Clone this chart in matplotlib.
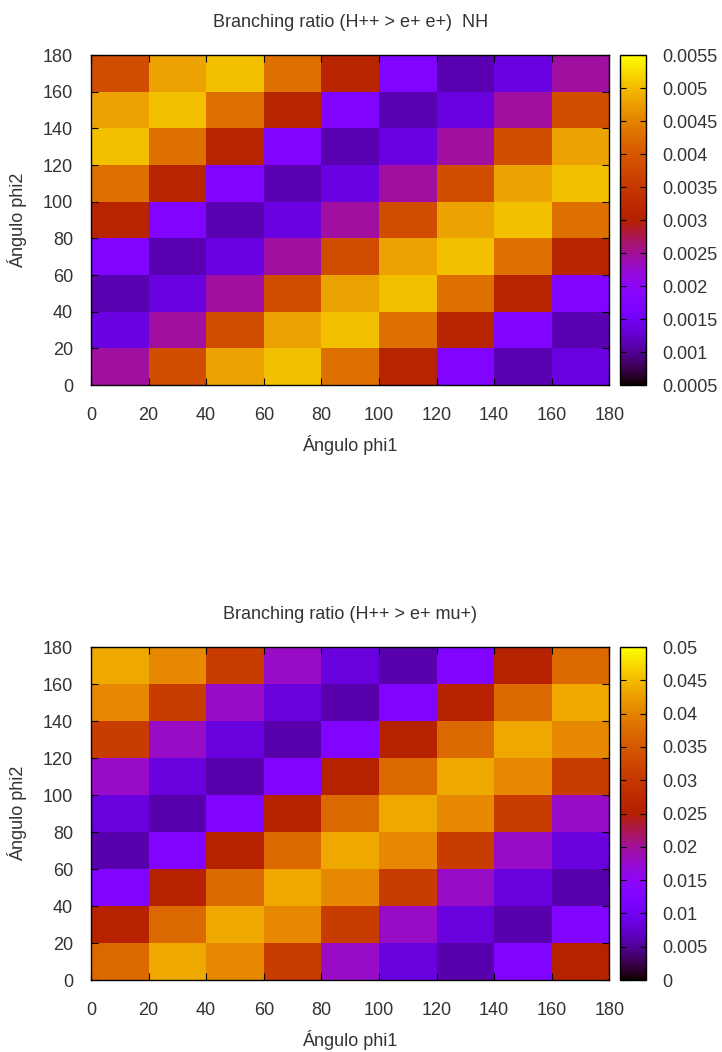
import matplotlib
matplotlib.use('agg')
from matplotlib import pyplot as plt
import numpy as np

plt.rcParams['font.family'] = ['Liberation Sans', 'DejaVu Sans']

# bin edges for both angles (degrees)
phi_edges = [0, 20, 40, 60, 80, 100, 120, 140, 160, 180]
ticks = [0, 20, 40, 60, 80, 100, 120, 140, 160, 180]

# BR(H++ -> e+ e+), NH ; rows = phi2 bins (bottom to top), cols = phi1 bins
br_ee = [
    [0.00247, 0.00383, 0.00478, 0.00505, 0.00430, 0.00310, 0.00175, 0.00112, 0.00137],
    [0.00137, 0.00247, 0.00383, 0.00478, 0.00505, 0.00430, 0.00310, 0.00175, 0.00112],
    [0.00112, 0.00137, 0.00247, 0.00383, 0.00478, 0.00505, 0.00430, 0.00310, 0.00175],
    [0.00175, 0.00112, 0.00137, 0.00247, 0.00383, 0.00478, 0.00505, 0.00430, 0.00310],
    [0.00310, 0.00175, 0.00112, 0.00137, 0.00247, 0.00383, 0.00478, 0.00505, 0.00430],
    [0.00430, 0.00310, 0.00175, 0.00112, 0.00137, 0.00247, 0.00383, 0.00478, 0.00505],
    [0.00505, 0.00430, 0.00310, 0.00175, 0.00112, 0.00137, 0.00247, 0.00383, 0.00478],
    [0.00478, 0.00505, 0.00430, 0.00310, 0.00175, 0.00112, 0.00137, 0.00247, 0.00383],
    [0.00383, 0.00478, 0.00505, 0.00430, 0.00310, 0.00175, 0.00112, 0.00137, 0.00247],
]
ee_ticks = [0.0005, 0.001, 0.0015, 0.002, 0.0025, 0.003, 0.0035, 0.004, 0.0045, 0.005, 0.0055]
ee_ticklabels = ['0.0005', '0.001', '0.0015', '0.002', '0.0025', '0.003',
                 '0.0035', '0.004', '0.0045', '0.005', '0.0055']

# BR(H++ -> e+ mu+)
br_emu = [
    [0.0372, 0.0435, 0.0405, 0.0307, 0.0178, 0.0085, 0.0060, 0.0125, 0.0255],
    [0.0255, 0.0372, 0.0435, 0.0405, 0.0307, 0.0178, 0.0085, 0.0060, 0.0125],
    [0.0125, 0.0255, 0.0372, 0.0435, 0.0405, 0.0307, 0.0178, 0.0085, 0.0060],
    [0.0060, 0.0125, 0.0255, 0.0372, 0.0435, 0.0405, 0.0307, 0.0178, 0.0085],
    [0.0085, 0.0060, 0.0125, 0.0255, 0.0372, 0.0435, 0.0405, 0.0307, 0.0178],
    [0.0178, 0.0085, 0.0060, 0.0125, 0.0255, 0.0372, 0.0435, 0.0405, 0.0307],
    [0.0307, 0.0178, 0.0085, 0.0060, 0.0125, 0.0255, 0.0372, 0.0435, 0.0405],
    [0.0405, 0.0307, 0.0178, 0.0085, 0.0060, 0.0125, 0.0255, 0.0372, 0.0435],
    [0.0435, 0.0405, 0.0307, 0.0178, 0.0085, 0.0060, 0.0125, 0.0255, 0.0372],
]
emu_ticks = [0, 0.005, 0.01, 0.015, 0.02, 0.025, 0.03, 0.035, 0.04, 0.045, 0.05]
emu_ticklabels = ['0', '0.005', '0.01', '0.015', '0.02', '0.025', '0.03',
                  '0.035', '0.04', '0.045', '0.05']

TXT = '#333333'
FS = 13


def panel(fig, rect, cbrect, data, vmin, vmax, cticks, clabels, title):
    ax = fig.add_axes(rect)
    mesh = ax.pcolormesh(phi_edges, phi_edges, np.array(data), cmap='gnuplot',
                         vmin=vmin, vmax=vmax, shading='flat')
    ax.set_xlim(0, 180)
    ax.set_ylim(0, 180)
    ax.set_xticks(ticks)
    ax.set_yticks(ticks)
    ax.tick_params(direction='in', top=True, right=True, length=5, width=0.8,
                   labelsize=FS, labelcolor=TXT)
    ax.tick_params(axis='x', pad=16)
    ax.tick_params(axis='y', pad=13)
    ax.set_xlabel('Ángulo phi1', fontsize=FS, color=TXT, labelpad=8)
    ax.set_ylabel('Ángulo phi2', fontsize=FS, color=TXT, labelpad=11)
    ax.set_title(title, fontsize=FS, color=TXT, pad=20)
    for s in ax.spines.values():
        s.set_linewidth(1.0)

    cax = fig.add_axes(cbrect)
    cb = fig.colorbar(mesh, cax=cax, ticks=cticks)
    cb.ax.set_yticklabels(clabels)
    cb.ax.tick_params(direction='in', left=True, right=True, length=4, width=0.8,
                      labelsize=FS, labelcolor=TXT, pad=12)
    cb.outline.set_linewidth(1.0)
    return ax


fig = plt.figure(figsize=(7.22, 10.52), dpi=100)

panel(fig, [0.126, 0.634, 0.718, 0.3137], [0.8587, 0.634, 0.036, 0.3137],
      br_ee, 0.0005, 0.0055, ee_ticks, ee_ticklabels,
      'Branching ratio (H++ > e+ e+)  NH')
panel(fig, [0.126, 0.0684, 0.718, 0.3165], [0.8587, 0.0684, 0.036, 0.3165],
      br_emu, 0.0, 0.05, emu_ticks, emu_ticklabels,
      'Branching ratio (H++ > e+ mu+)')

plt.savefig('out.png', dpi=100)
plt.close()
